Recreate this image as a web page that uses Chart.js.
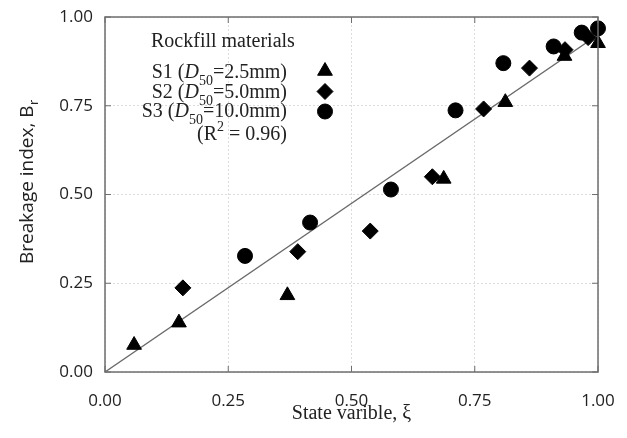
<!DOCTYPE html>
<html>
<head>
<meta charset="utf-8">
<script src="https://cdn.jsdelivr.net/npm/chart.js@4/dist/chart.umd.min.js"></script>
<style>
  html, body { margin: 0; padding: 0; background: #fff; }
  #wrap { width: 627px; height: 438px; }
</style>
</head>
<body>
<div id="wrap"><canvas id="c" width="627" height="438"></canvas></div>
<script>
// ---- data ----
const s1X = [0.059, 0.150, 0.370, 0.687, 0.812, 0.932, 1.000];
const s1Y = [0.076, 0.139, 0.216, 0.544, 0.760, 0.890, 0.926];
const s2X = [0.158, 0.391, 0.538, 0.664, 0.768, 0.861, 0.933, 0.980];
const s2Y = [0.237, 0.339, 0.397, 0.550, 0.741, 0.856, 0.908, 0.942];
const s3X = [0.284, 0.416, 0.580, 0.711, 0.808, 0.910, 0.967, 1.000];
const s3Y = [0.327, 0.421, 0.514, 0.737, 0.870, 0.917, 0.956, 0.968];
const fitX = [0, 1];
const fitY = [0, 0.95];
const tickValues = [0, 0.25, 0.5, 0.75, 1.0];
const legendTitle = 'Rockfill materials';
const seriesNames = ['S1', 'S2', 'S3'];
const seriesD50 = ['2.5mm', '5.0mm', '10.0mm'];
const seriesStyles = ['triangle', 'rectRot', 'circle'];
const r2Text = '0.96';

const pts = (xs, ys) => xs.map((x, i) => ({ x: x, y: ys[i] }));

const SERIF = '"Liberation Serif", "Times New Roman", serif';
const SANS = '"Open Sans", "DejaVu Sans", sans-serif';

const decor = {
  id: 'decor',
  afterDraw(chart) {
    const ctx = chart.ctx;
    const a = chart.chartArea;
    const xs = chart.scales.x, ys = chart.scales.y;
    ctx.save();
    // frame
    ctx.strokeStyle = '#6e6e6e';
    ctx.lineWidth = 1.5;
    ctx.strokeRect(a.left, a.top, a.right - a.left, a.bottom - a.top);
    // inward ticks
    ctx.lineWidth = 1;
    ctx.beginPath();
    tickValues.forEach(v => {
      const px = xs.getPixelForValue(v);
      ctx.moveTo(px, a.bottom); ctx.lineTo(px, a.bottom - 6);
      ctx.moveTo(px, a.top); ctx.lineTo(px, a.top + 6);
      const py = ys.getPixelForValue(v);
      ctx.moveTo(a.left, py); ctx.lineTo(a.left + 6, py);
      ctx.moveTo(a.right, py); ctx.lineTo(a.right - 6, py);
    });
    ctx.stroke();

    // x-axis title
    ctx.fillStyle = '#222';
    ctx.font = '20px ' + SERIF;
    ctx.textAlign = 'center';
    ctx.textBaseline = 'alphabetic';
    ctx.fillText('State varible, \u03BE', (a.left + a.right) / 2, 419);

    // y-axis title (rotated, subscript r)
    ctx.save();
    ctx.translate(33, 182);
    ctx.rotate(-Math.PI / 2);
    const mainFont = '19px ' + SANS, subFont = '13px ' + SANS;
    ctx.font = mainFont;
    const mainT = 'Breakage index, B';
    const w1 = ctx.measureText(mainT).width;
    ctx.font = subFont;
    const w2 = ctx.measureText('r').width;
    const start = -(w1 + w2) / 2;
    ctx.textAlign = 'left';
    ctx.font = mainFont;
    ctx.fillText(mainT, start, 0);
    ctx.font = subFont;
    ctx.fillText('r', start + w1 + 0.5, 5);
    ctx.restore();

    // legend block
    ctx.textAlign = 'left';
    ctx.fillStyle = '#222';
    ctx.font = '20px ' + SERIF;
    ctx.fillText(legendTitle, 151, 47);
    const rightEdge = 287;
    const baselines = [78, 98, 117];
    const markerY = [71, 91.5, 111.5];
    const normal = '20px ' + SERIF, italic = 'italic 20px ' + SERIF, small = '14px ' + SERIF;
    seriesNames.forEach((nm, i) => {
      const segs = [
        { t: nm + ' (', f: normal, dy: 0 },
        { t: 'D', f: italic, dy: 0 },
        { t: '50', f: small, dy: 7 },
        { t: '=' + seriesD50[i] + ')', f: normal, dy: 0 }
      ];
      let total = 0;
      segs.forEach(s => { ctx.font = s.f; s.w = ctx.measureText(s.t).width; total += s.w; });
      let x = rightEdge - total;
      segs.forEach(s => { ctx.font = s.f; ctx.fillText(s.t, x, baselines[i] + s.dy); x += s.w; });
      ctx.fillStyle = '#000';
      ctx.strokeStyle = '#000';
      const rad = seriesStyles[i] === 'triangle' ? 8.5 : (seriesStyles[i] === 'rectRot' ? 8 : 7.5);
      Chart.helpers.drawPoint(ctx, { pointStyle: seriesStyles[i], radius: rad, borderWidth: 1 }, 325, markerY[i]);
      ctx.fillStyle = '#222';
    });
    // (R^2 = 0.96)
    {
      const segs = [
        { t: '(R', f: normal, dy: 0 },
        { t: '2', f: small, dy: -9 },
        { t: ' = ' + r2Text + ')', f: normal, dy: 0 }
      ];
      let total = 0;
      segs.forEach(s => { ctx.font = s.f; s.w = ctx.measureText(s.t).width; total += s.w; });
      let x = rightEdge - total;
      segs.forEach(s => { ctx.font = s.f; ctx.fillText(s.t, x, 140 + s.dy); x += s.w; });
    }
    ctx.restore();
  }
};

const tickFmt = v => Number(v).toFixed(2);

new Chart(document.getElementById('c'), {
  type: 'scatter',
  data: {
    datasets: [
      { label: 'fit', type: 'line', data: pts(fitX, fitY), borderColor: '#6a6a6a', borderWidth: 1.5,
        pointRadius: 0, fill: false, order: 5 },
      { label: 'S1', data: pts(s1X, s1Y), pointStyle: 'triangle', pointRadius: 8.5,
        backgroundColor: '#000', borderColor: '#000', borderWidth: 1, order: 1 },
      { label: 'S2', data: pts(s2X, s2Y), pointStyle: 'rectRot', pointRadius: 8,
        backgroundColor: '#000', borderColor: '#000', borderWidth: 1, order: 2 },
      { label: 'S3', data: pts(s3X, s3Y), pointStyle: 'circle', pointRadius: 7.5,
        backgroundColor: '#000', borderColor: '#000', borderWidth: 1, order: 3 }
    ]
  },
  options: {
    responsive: false,
    animation: false,
    clip: false,
    layout: { padding: { top: 17, right: 29, left: 0, bottom: 0 } },
    plugins: { legend: { display: false }, tooltip: { enabled: false } },
    scales: {
      x: {
        type: 'linear', min: 0, max: 1,
        afterBuildTicks: s => { s.ticks = tickValues.map(v => ({ value: v })); },
        afterFit: s => { s.height = 66; s.paddingLeft = 0; s.paddingRight = 0; },
        ticks: { callback: tickFmt, font: { family: SANS, size: 17 }, color: '#222', padding: 19, maxRotation: 0 },
        grid: { color: '#dcdcdc', drawTicks: false, lineWidth: 1 },
        border: { display: false, dash: [2, 2] }
      },
      y: {
        type: 'linear', min: 0, max: 1,
        afterBuildTicks: s => { s.ticks = tickValues.map(v => ({ value: v })); },
        afterFit: s => { s.width = 105; s.paddingTop = 0; s.paddingBottom = 0; },
        ticks: { callback: tickFmt, font: { family: SANS, size: 17 }, color: '#222', padding: 12 },
        grid: { color: '#dcdcdc', drawTicks: false, lineWidth: 1 },
        border: { display: false, dash: [2, 2] }
      }
    }
  },
  plugins: [decor]
});
</script>
</body>
</html>
